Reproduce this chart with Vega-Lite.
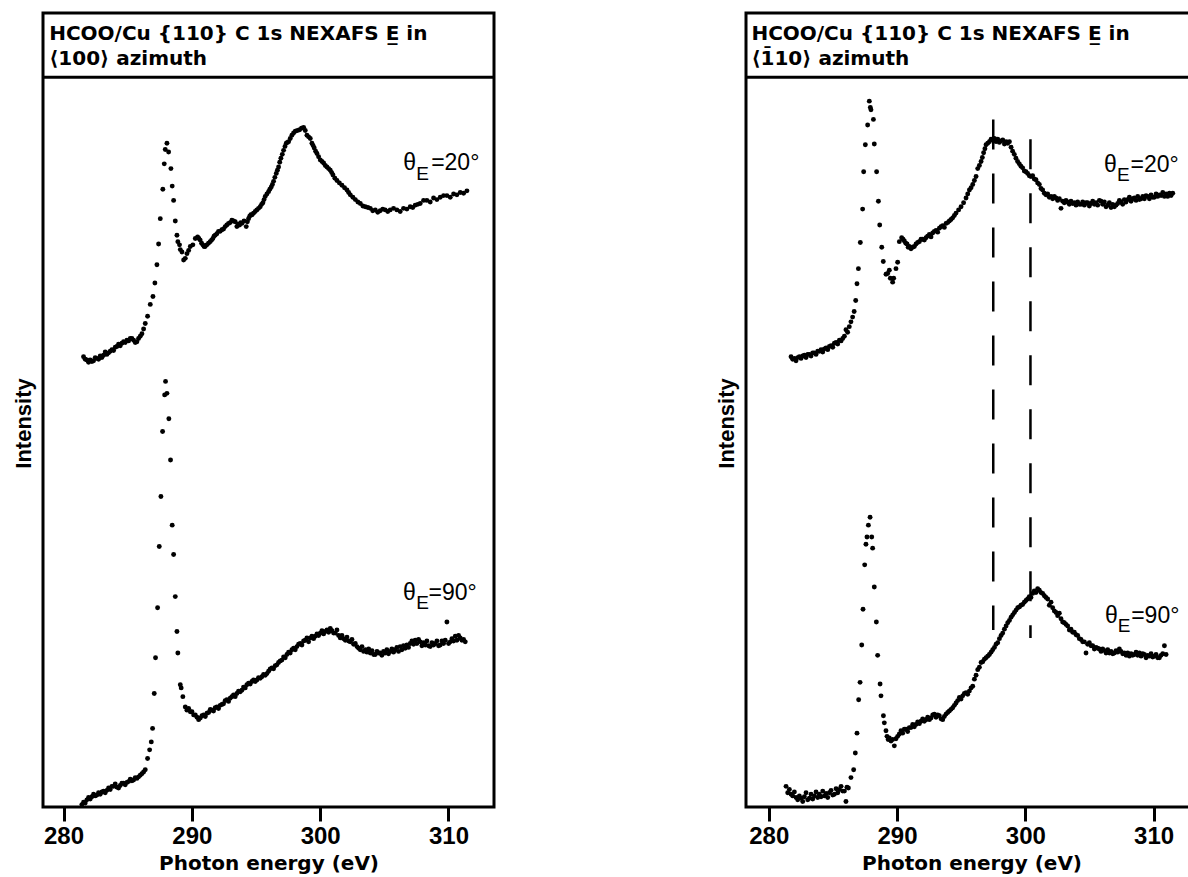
{
"$schema": "https://vega.github.io/schema/vega-lite/v6.json",
"background": "white",
"padding": {"left": 10, "top": 11, "right": 0, "bottom": 0},
"spacing": 216,
"config": {
  "view": {"stroke": "black", "strokeWidth": 3},
  "font": "Liberation Sans",
  "axisX": {"domain": false, "grid": false, "tickSize": 14, "tickWidth": 3, "tickColor": "black", "labelFont": "Liberation Sans", "labelFontSize": 24, "labelFontWeight": "bold", "labelColor": "black", "labelPadding": 3, "titleFont": "DejaVu Sans", "titleFontSize": 20, "titleFontWeight": "bold", "titlePadding": 5, "titleColor": "black"},
  "axisY": {"domain": false, "ticks": false, "labels": false, "grid": false, "titleFont": "Liberation Sans", "titleFontSize": 22, "titleFontWeight": "bold", "titlePadding": 8, "titleColor": "black", "titleY": 410}
},
"datasets": {
"a": [
{"e":281.56,"i":56.7},{"e":281.69,"i":56.4},{"e":281.82,"i":56.3},{"e":281.95,"i":56.0},{"e":282.08,"i":56.3},{"e":282.21,"i":56.1},{"e":282.34,"i":56.2},{"e":282.47,"i":56.6},{"e":282.60,"i":56.5},{"e":282.73,"i":56.4},{"e":282.86,"i":56.8},{"e":282.99,"i":56.6},{"e":283.12,"i":56.9},{"e":283.25,"i":57.3},{"e":283.38,"i":57.0},{"e":283.51,"i":57.2},{"e":283.64,"i":57.4},{"e":283.77,"i":57.6},{"e":283.90,"i":57.5},{"e":284.03,"i":57.9},{"e":284.16,"i":58.0},{"e":284.29,"i":58.3},{"e":284.42,"i":58.1},{"e":284.55,"i":58.4},{"e":284.68,"i":58.6},{"e":284.81,"i":58.5},{"e":284.94,"i":58.8},{"e":285.07,"i":58.7},{"e":285.20,"i":59.0},{"e":285.33,"i":59.0},{"e":285.46,"i":58.8},{"e":285.59,"i":58.5},{"e":285.72,"i":58.6},{"e":285.85,"i":59.0},{"e":285.98,"i":59.3},{"e":286.11,"i":59.6},{"e":286.24,"i":60.2},{"e":286.37,"i":60.9},{"e":286.55,"i":61.8},{"e":286.76,"i":63.3},{"e":286.97,"i":64.3},{"e":287.12,"i":66.0},{"e":287.28,"i":68.3},{"e":287.41,"i":70.9},{"e":287.54,"i":74.1},{"e":287.74,"i":77.8},{"e":287.85,"i":81.0},{"e":287.93,"i":82.8},{"e":288.06,"i":83.6},{"e":288.19,"i":82.5},{"e":288.37,"i":80.4},{"e":288.47,"i":78.2},{"e":288.58,"i":76.4},{"e":288.71,"i":73.8},{"e":288.84,"i":72.0},{"e":288.91,"i":71.2},{"e":289.04,"i":70.8},{"e":289.10,"i":70.2},{"e":289.23,"i":69.9},{"e":289.36,"i":68.9},{"e":289.49,"i":69.1},{"e":289.62,"i":69.7},{"e":289.75,"i":70.1},{"e":289.88,"i":70.6},{"e":290.08,"i":70.8},{"e":290.27,"i":71.6},{"e":290.45,"i":71.8},{"e":290.55,"i":71.6},{"e":290.65,"i":71.4},{"e":290.76,"i":71.0},{"e":290.86,"i":70.8},{"e":290.95,"i":70.6},{"e":291.04,"i":70.6},{"e":291.17,"i":70.8},{"e":291.30,"i":71.0},{"e":291.43,"i":71.2},{"e":291.54,"i":71.4},{"e":291.64,"i":71.6},{"e":291.73,"i":71.9},{"e":291.82,"i":72.0},{"e":291.95,"i":72.2},{"e":292.08,"i":72.5},{"e":292.21,"i":72.5},{"e":292.34,"i":72.7},{"e":292.47,"i":72.8},{"e":292.60,"i":73.1},{"e":292.73,"i":73.3},{"e":292.86,"i":73.5},{"e":292.99,"i":73.6},{"e":293.12,"i":73.9},{"e":293.25,"i":73.8},{"e":293.38,"i":73.7},{"e":293.51,"i":73.1},{"e":293.62,"i":73.4},{"e":293.72,"i":73.3},{"e":293.81,"i":73.6},{"e":293.90,"i":73.5},{"e":294.07,"i":73.8},{"e":294.24,"i":73.1},{"e":294.33,"i":73.7},{"e":294.42,"i":74.1},{"e":294.51,"i":74.4},{"e":294.60,"i":74.6},{"e":294.70,"i":74.6},{"e":294.81,"i":74.8},{"e":294.94,"i":75.0},{"e":295.07,"i":75.2},{"e":295.20,"i":75.4},{"e":295.33,"i":75.6},{"e":295.44,"i":75.9},{"e":295.54,"i":76.1},{"e":295.63,"i":76.5},{"e":295.72,"i":76.9},{"e":295.85,"i":77.2},{"e":295.98,"i":77.5},{"e":296.08,"i":77.8},{"e":296.19,"i":78.1},{"e":296.28,"i":78.4},{"e":296.37,"i":78.8},{"e":296.47,"i":79.3},{"e":296.58,"i":79.8},{"e":296.67,"i":80.2},{"e":296.76,"i":80.6},{"e":296.85,"i":81.2},{"e":296.94,"i":81.7},{"e":297.05,"i":82.2},{"e":297.15,"i":82.7},{"e":297.26,"i":83.2},{"e":297.36,"i":83.6},{"e":297.45,"i":83.7},{"e":297.54,"i":83.8},{"e":297.67,"i":84.2},{"e":297.80,"i":84.6},{"e":297.93,"i":84.9},{"e":298.06,"i":85.1},{"e":298.23,"i":85.2},{"e":298.40,"i":85.3},{"e":298.55,"i":85.5},{"e":298.71,"i":85.6},{"e":298.84,"i":85.2},{"e":298.97,"i":84.6},{"e":299.10,"i":84.4},{"e":299.23,"i":84.2},{"e":299.36,"i":83.6},{"e":299.45,"i":83.3},{"e":299.54,"i":83.0},{"e":299.65,"i":82.6},{"e":299.75,"i":82.3},{"e":299.88,"i":81.9},{"e":300.01,"i":81.5},{"e":300.14,"i":81.3},{"e":300.27,"i":81.1},{"e":300.40,"i":80.8},{"e":300.53,"i":80.6},{"e":300.66,"i":80.4},{"e":300.79,"i":80.2},{"e":300.90,"i":79.9},{"e":301.00,"i":79.6},{"e":301.15,"i":79.2},{"e":301.31,"i":78.9},{"e":301.50,"i":78.6},{"e":301.70,"i":78.3},{"e":301.90,"i":78.0},{"e":302.09,"i":77.7},{"e":302.22,"i":77.4},{"e":302.35,"i":77.1},{"e":302.55,"i":76.8},{"e":302.74,"i":76.5},{"e":302.94,"i":76.2},{"e":303.13,"i":76.0},{"e":303.33,"i":75.7},{"e":303.52,"i":75.6},{"e":303.72,"i":75.5},{"e":303.91,"i":75.4},{"e":304.10,"i":75.1},{"e":304.30,"i":75.2},{"e":304.49,"i":74.9},{"e":304.68,"i":75.1},{"e":304.88,"i":75.3},{"e":305.07,"i":75.2},{"e":305.27,"i":75.0},{"e":305.46,"i":75.2},{"e":305.72,"i":75.4},{"e":305.98,"i":75.2},{"e":306.24,"i":75.0},{"e":306.50,"i":75.4},{"e":306.76,"i":75.3},{"e":307.02,"i":75.6},{"e":307.22,"i":75.5},{"e":307.41,"i":75.8},{"e":307.61,"i":75.9},{"e":307.80,"i":76.0},{"e":308.06,"i":76.4},{"e":308.32,"i":76.4},{"e":308.58,"i":76.2},{"e":308.84,"i":76.7},{"e":309.10,"i":76.5},{"e":309.36,"i":76.8},{"e":309.62,"i":77.0},{"e":309.88,"i":77.0},{"e":310.14,"i":76.8},{"e":310.40,"i":77.2},{"e":310.66,"i":77.1},{"e":310.92,"i":77.4},{"e":311.18,"i":77.3},{"e":311.44,"i":77.6},
{"e":281.43,"i":0.3},{"e":281.56,"i":0.6},{"e":281.69,"i":0.5},{"e":281.82,"i":0.9},{"e":281.95,"i":1.2},{"e":282.08,"i":1.0},{"e":282.21,"i":1.3},{"e":282.34,"i":1.6},{"e":282.47,"i":1.4},{"e":282.60,"i":1.5},{"e":282.73,"i":1.8},{"e":282.86,"i":1.6},{"e":282.99,"i":1.9},{"e":283.12,"i":2.0},{"e":283.25,"i":1.8},{"e":283.38,"i":2.1},{"e":283.51,"i":2.4},{"e":283.64,"i":2.2},{"e":283.77,"i":2.6},{"e":283.90,"i":2.6},{"e":284.03,"i":2.9},{"e":284.16,"i":2.5},{"e":284.29,"i":2.4},{"e":284.42,"i":2.7},{"e":284.55,"i":3.0},{"e":284.68,"i":3.0},{"e":284.81,"i":2.8},{"e":284.94,"i":3.1},{"e":285.07,"i":3.2},{"e":285.20,"i":3.5},{"e":285.33,"i":3.3},{"e":285.46,"i":3.4},{"e":285.59,"i":3.7},{"e":285.72,"i":3.6},{"e":285.85,"i":3.8},{"e":285.98,"i":4.0},{"e":286.11,"i":4.2},{"e":286.24,"i":4.4},{"e":286.37,"i":4.7},{"e":286.55,"i":6.1},{"e":286.71,"i":7.2},{"e":286.84,"i":8.2},{"e":286.94,"i":9.9},{"e":287.07,"i":14.3},{"e":287.17,"i":18.8},{"e":287.33,"i":25.1},{"e":287.46,"i":32.8},{"e":287.59,"i":39.1},{"e":287.72,"i":47.3},{"e":287.88,"i":51.9},{"e":287.95,"i":53.6},{"e":288.06,"i":52.1},{"e":288.21,"i":48.9},{"e":288.34,"i":43.7},{"e":288.47,"i":35.5},{"e":288.58,"i":31.8},{"e":288.71,"i":26.5},{"e":288.84,"i":22.1},{"e":288.91,"i":19.4},{"e":289.10,"i":15.4},{"e":289.17,"i":15.0},{"e":289.30,"i":13.9},{"e":289.49,"i":12.6},{"e":289.62,"i":12.2},{"e":289.75,"i":12.4},{"e":289.88,"i":12.0},{"e":290.01,"i":12.0},{"e":290.14,"i":11.6},{"e":290.27,"i":11.6},{"e":290.40,"i":11.3},{"e":290.53,"i":11.0},{"e":290.66,"i":11.2},{"e":290.79,"i":11.5},{"e":290.92,"i":11.6},{"e":291.05,"i":11.4},{"e":291.18,"i":11.8},{"e":291.31,"i":11.9},{"e":291.44,"i":12.3},{"e":291.56,"i":12.2},{"e":291.69,"i":12.1},{"e":291.82,"i":12.5},{"e":291.95,"i":12.6},{"e":292.08,"i":12.4},{"e":292.21,"i":12.8},{"e":292.34,"i":12.9},{"e":292.47,"i":13.0},{"e":292.60,"i":13.4},{"e":292.73,"i":13.5},{"e":292.86,"i":13.3},{"e":292.99,"i":13.7},{"e":293.12,"i":13.9},{"e":293.25,"i":14.1},{"e":293.38,"i":13.9},{"e":293.51,"i":14.3},{"e":293.64,"i":14.6},{"e":293.77,"i":14.5},{"e":293.90,"i":14.7},{"e":294.03,"i":15.1},{"e":294.16,"i":15.0},{"e":294.29,"i":15.4},{"e":294.42,"i":15.6},{"e":294.55,"i":15.5},{"e":294.68,"i":15.8},{"e":294.81,"i":16.0},{"e":294.94,"i":15.8},{"e":295.07,"i":16.0},{"e":295.20,"i":16.3},{"e":295.33,"i":16.2},{"e":295.46,"i":16.4},{"e":295.59,"i":16.7},{"e":295.72,"i":16.6},{"e":295.85,"i":16.8},{"e":295.98,"i":17.1},{"e":296.11,"i":17.4},{"e":296.24,"i":17.5},{"e":296.37,"i":17.4},{"e":296.50,"i":17.8},{"e":296.63,"i":17.9},{"e":296.76,"i":18.2},{"e":296.89,"i":18.4},{"e":297.02,"i":18.5},{"e":297.15,"i":18.9},{"e":297.28,"i":18.8},{"e":297.41,"i":19.2},{"e":297.54,"i":19.5},{"e":297.67,"i":19.4},{"e":297.80,"i":19.8},{"e":297.93,"i":20.0},{"e":298.06,"i":19.8},{"e":298.19,"i":20.2},{"e":298.32,"i":20.5},{"e":298.45,"i":20.6},{"e":298.58,"i":20.4},{"e":298.71,"i":20.9},{"e":298.84,"i":21.0},{"e":298.97,"i":21.3},{"e":299.10,"i":20.8},{"e":299.23,"i":21.3},{"e":299.36,"i":21.5},{"e":299.49,"i":21.2},{"e":299.62,"i":21.5},{"e":299.75,"i":21.8},{"e":299.88,"i":21.6},{"e":300.01,"i":21.9},{"e":300.14,"i":22.2},{"e":300.27,"i":21.8},{"e":300.40,"i":22.1},{"e":300.53,"i":22.3},{"e":300.66,"i":22.0},{"e":300.79,"i":22.5},{"e":300.92,"i":22.2},{"e":301.05,"i":21.9},{"e":301.18,"i":21.9},{"e":301.31,"i":22.3},{"e":301.44,"i":21.6},{"e":301.57,"i":21.3},{"e":301.70,"i":21.6},{"e":301.83,"i":21.2},{"e":301.96,"i":21.0},{"e":302.09,"i":21.4},{"e":302.22,"i":20.9},{"e":302.35,"i":20.8},{"e":302.48,"i":21.1},{"e":302.61,"i":20.5},{"e":302.74,"i":20.6},{"e":302.87,"i":20.2},{"e":303.00,"i":20.0},{"e":303.13,"i":19.8},{"e":303.26,"i":20.2},{"e":303.39,"i":19.6},{"e":303.52,"i":19.8},{"e":303.65,"i":19.5},{"e":303.78,"i":19.9},{"e":303.91,"i":19.4},{"e":304.04,"i":19.7},{"e":304.17,"i":19.2},{"e":304.30,"i":19.2},{"e":304.43,"i":19.6},{"e":304.56,"i":19.4},{"e":304.68,"i":19.4},{"e":304.81,"i":19.1},{"e":304.94,"i":19.6},{"e":305.07,"i":19.4},{"e":305.20,"i":19.8},{"e":305.33,"i":19.3},{"e":305.46,"i":19.6},{"e":305.59,"i":19.9},{"e":305.72,"i":19.5},{"e":305.85,"i":19.8},{"e":305.98,"i":20.1},{"e":306.11,"i":19.6},{"e":306.24,"i":20.2},{"e":306.37,"i":19.8},{"e":306.50,"i":20.3},{"e":306.63,"i":20.0},{"e":306.76,"i":20.4},{"e":306.89,"i":20.1},{"e":307.02,"i":20.6},{"e":307.15,"i":20.9},{"e":307.28,"i":20.5},{"e":307.41,"i":21.0},{"e":307.54,"i":20.6},{"e":307.67,"i":21.1},{"e":307.80,"i":20.8},{"e":307.93,"i":20.3},{"e":308.06,"i":20.7},{"e":308.19,"i":20.4},{"e":308.32,"i":20.9},{"e":308.45,"i":20.3},{"e":308.58,"i":20.2},{"e":308.71,"i":20.7},{"e":308.84,"i":20.4},{"e":308.97,"i":20.6},{"e":309.10,"i":20.9},{"e":309.23,"i":20.3},{"e":309.36,"i":20.4},{"e":309.49,"i":20.9},{"e":309.62,"i":20.6},{"e":309.75,"i":21.0},{"e":309.88,"i":23.3},{"e":310.01,"i":20.6},{"e":310.14,"i":20.8},{"e":310.27,"i":21.2},{"e":310.40,"i":20.9},{"e":310.53,"i":21.5},{"e":310.66,"i":21.0},{"e":310.79,"i":21.6},{"e":310.92,"i":21.3},{"e":311.05,"i":21.0},{"e":311.18,"i":21.1},{"e":311.31,"i":20.8}
],
"b": [
{"e":281.74,"i":56.7},{"e":281.87,"i":56.4},{"e":282.00,"i":56.5},{"e":282.13,"i":56.2},{"e":282.26,"i":56.6},{"e":282.39,"i":56.7},{"e":282.52,"i":56.5},{"e":282.65,"i":56.8},{"e":282.78,"i":56.9},{"e":282.91,"i":56.6},{"e":283.04,"i":57.0},{"e":283.17,"i":57.0},{"e":283.30,"i":56.8},{"e":283.43,"i":57.2},{"e":283.56,"i":57.2},{"e":283.69,"i":57.0},{"e":283.82,"i":57.4},{"e":283.95,"i":57.4},{"e":284.08,"i":57.6},{"e":284.21,"i":57.3},{"e":284.34,"i":57.7},{"e":284.47,"i":57.8},{"e":284.60,"i":57.6},{"e":284.73,"i":58.0},{"e":284.86,"i":58.1},{"e":284.99,"i":57.9},{"e":285.12,"i":58.4},{"e":285.25,"i":58.5},{"e":285.38,"i":58.3},{"e":285.51,"i":58.8},{"e":285.64,"i":58.7},{"e":285.77,"i":59.0},{"e":285.90,"i":59.3},{"e":286.02,"i":60.1},{"e":286.15,"i":59.8},{"e":286.28,"i":60.5},{"e":286.41,"i":61.1},{"e":286.54,"i":61.7},{"e":286.66,"i":62.4},{"e":286.78,"i":63.8},{"e":286.88,"i":65.9},{"e":286.99,"i":67.8},{"e":287.14,"i":71.1},{"e":287.32,"i":75.3},{"e":287.40,"i":80.0},{"e":287.53,"i":83.4},{"e":287.71,"i":85.9},{"e":287.84,"i":88.9},{"e":287.92,"i":88.1},{"e":287.97,"i":87.8},{"e":288.16,"i":86.6},{"e":288.23,"i":83.5},{"e":288.41,"i":80.0},{"e":288.55,"i":76.3},{"e":288.65,"i":73.3},{"e":288.81,"i":70.5},{"e":288.93,"i":68.7},{"e":289.14,"i":67.1},{"e":289.27,"i":67.2},{"e":289.40,"i":67.6},{"e":289.48,"i":66.6},{"e":289.66,"i":66.1},{"e":289.74,"i":66.6},{"e":289.92,"i":67.8},{"e":290.05,"i":68.6},{"e":290.18,"i":71.2},{"e":290.36,"i":71.7},{"e":290.47,"i":71.5},{"e":290.57,"i":71.3},{"e":290.68,"i":71.0},{"e":290.78,"i":70.9},{"e":290.87,"i":70.5},{"e":290.96,"i":70.6},{"e":291.09,"i":70.3},{"e":291.22,"i":70.5},{"e":291.35,"i":70.6},{"e":291.48,"i":70.9},{"e":291.61,"i":71.1},{"e":291.74,"i":71.2},{"e":291.87,"i":71.5},{"e":292.00,"i":71.5},{"e":292.13,"i":71.4},{"e":292.26,"i":71.7},{"e":292.39,"i":71.9},{"e":292.52,"i":72.1},{"e":292.65,"i":71.8},{"e":292.78,"i":72.3},{"e":292.91,"i":72.5},{"e":293.04,"i":72.6},{"e":293.17,"i":72.4},{"e":293.30,"i":72.9},{"e":293.43,"i":73.1},{"e":293.56,"i":73.2},{"e":293.69,"i":73.0},{"e":293.82,"i":73.5},{"e":293.95,"i":73.6},{"e":294.08,"i":73.8},{"e":294.21,"i":74.0},{"e":294.34,"i":74.2},{"e":294.47,"i":74.5},{"e":294.60,"i":74.8},{"e":294.80,"i":75.2},{"e":294.99,"i":75.6},{"e":295.19,"i":76.1},{"e":295.38,"i":76.7},{"e":295.51,"i":77.2},{"e":295.64,"i":77.7},{"e":295.77,"i":78.0},{"e":295.90,"i":78.4},{"e":296.03,"i":78.9},{"e":296.16,"i":79.4},{"e":296.29,"i":80.4},{"e":296.42,"i":80.8},{"e":296.55,"i":81.3},{"e":296.65,"i":81.8},{"e":296.75,"i":82.4},{"e":296.85,"i":82.9},{"e":296.94,"i":83.4},{"e":297.07,"i":83.6},{"e":297.20,"i":83.8},{"e":297.33,"i":84.1},{"e":297.46,"i":84.0},{"e":297.59,"i":84.2},{"e":297.72,"i":83.8},{"e":297.85,"i":84.1},{"e":297.98,"i":83.7},{"e":298.11,"i":83.9},{"e":298.24,"i":84.0},{"e":298.37,"i":83.5},{"e":298.50,"i":83.8},{"e":298.63,"i":83.6},{"e":298.76,"i":83.8},{"e":298.89,"i":83.1},{"e":299.01,"i":82.6},{"e":299.14,"i":82.2},{"e":299.27,"i":81.7},{"e":299.40,"i":81.3},{"e":299.53,"i":81.0},{"e":299.66,"i":80.7},{"e":299.79,"i":80.5},{"e":299.92,"i":80.1},{"e":300.05,"i":80.0},{"e":300.18,"i":79.8},{"e":300.31,"i":79.5},{"e":300.44,"i":79.4},{"e":300.57,"i":79.5},{"e":300.70,"i":79.1},{"e":300.83,"i":79.0},{"e":300.96,"i":78.6},{"e":301.09,"i":78.4},{"e":301.22,"i":77.9},{"e":301.35,"i":77.7},{"e":301.48,"i":77.3},{"e":301.61,"i":77.1},{"e":301.74,"i":77.2},{"e":301.87,"i":76.8},{"e":302.00,"i":76.9},{"e":302.13,"i":76.6},{"e":302.26,"i":76.9},{"e":302.39,"i":76.7},{"e":302.52,"i":76.4},{"e":302.65,"i":76.6},{"e":302.78,"i":75.4},{"e":302.91,"i":76.3},{"e":303.04,"i":76.1},{"e":303.17,"i":76.4},{"e":303.30,"i":76.2},{"e":303.43,"i":75.9},{"e":303.56,"i":76.3},{"e":303.69,"i":76.0},{"e":303.82,"i":76.1},{"e":303.95,"i":75.8},{"e":304.08,"i":76.2},{"e":304.21,"i":75.9},{"e":304.34,"i":75.9},{"e":304.47,"i":76.2},{"e":304.60,"i":75.8},{"e":304.73,"i":76.1},{"e":304.86,"i":76.1},{"e":304.99,"i":75.7},{"e":305.12,"i":76.0},{"e":305.25,"i":76.3},{"e":305.38,"i":75.9},{"e":305.51,"i":76.1},{"e":305.64,"i":75.8},{"e":305.77,"i":76.4},{"e":305.90,"i":76.3},{"e":306.03,"i":75.9},{"e":306.16,"i":76.2},{"e":306.29,"i":75.6},{"e":306.42,"i":75.8},{"e":306.55,"i":76.1},{"e":306.68,"i":75.5},{"e":306.81,"i":75.9},{"e":306.94,"i":75.6},{"e":307.07,"i":75.8},{"e":307.20,"i":76.0},{"e":307.33,"i":76.4},{"e":307.46,"i":76.2},{"e":307.59,"i":75.9},{"e":307.72,"i":76.5},{"e":307.85,"i":76.2},{"e":307.98,"i":76.5},{"e":308.11,"i":76.8},{"e":308.24,"i":76.3},{"e":308.37,"i":76.6},{"e":308.50,"i":76.7},{"e":308.63,"i":76.4},{"e":308.76,"i":76.9},{"e":308.89,"i":76.5},{"e":309.02,"i":76.6},{"e":309.15,"i":76.9},{"e":309.28,"i":76.6},{"e":309.41,"i":77.0},{"e":309.54,"i":76.9},{"e":309.67,"i":76.6},{"e":309.80,"i":77.1},{"e":309.93,"i":76.8},{"e":310.06,"i":76.8},{"e":310.19,"i":77.2},{"e":310.32,"i":76.9},{"e":310.45,"i":77.1},{"e":310.58,"i":77.0},{"e":310.71,"i":77.4},{"e":310.84,"i":76.9},{"e":310.97,"i":77.2},{"e":311.10,"i":76.9},{"e":311.23,"i":77.3},{"e":311.36,"i":77.0},{"e":311.49,"i":77.3},
{"e":281.35,"i":2.6},{"e":281.48,"i":1.8},{"e":281.61,"i":2.2},{"e":281.74,"i":1.6},{"e":281.87,"i":1.4},{"e":282.00,"i":1.9},{"e":282.13,"i":1.2},{"e":282.26,"i":0.9},{"e":282.39,"i":1.4},{"e":282.52,"i":1.1},{"e":282.65,"i":0.7},{"e":282.78,"i":1.3},{"e":282.91,"i":1.8},{"e":283.04,"i":0.9},{"e":283.17,"i":1.1},{"e":283.30,"i":1.6},{"e":283.43,"i":1.0},{"e":283.56,"i":1.4},{"e":283.69,"i":1.9},{"e":283.82,"i":1.2},{"e":283.95,"i":1.6},{"e":284.08,"i":1.3},{"e":284.21,"i":2.0},{"e":284.34,"i":1.4},{"e":284.47,"i":1.7},{"e":284.60,"i":1.2},{"e":284.73,"i":1.8},{"e":284.86,"i":2.1},{"e":284.99,"i":1.5},{"e":285.12,"i":1.6},{"e":285.25,"i":2.3},{"e":285.38,"i":1.8},{"e":285.51,"i":2.2},{"e":285.64,"i":2.6},{"e":285.77,"i":2.0},{"e":285.90,"i":2.0},{"e":286.02,"i":0.7},{"e":286.10,"i":2.5},{"e":286.21,"i":2.4},{"e":286.41,"i":3.7},{"e":286.62,"i":4.7},{"e":286.75,"i":6.8},{"e":286.88,"i":9.3},{"e":287.01,"i":13.5},{"e":287.12,"i":15.7},{"e":287.25,"i":20.4},{"e":287.35,"i":24.9},{"e":287.48,"i":30.5},{"e":287.58,"i":33.1},{"e":287.66,"i":34.0},{"e":287.77,"i":35.5},{"e":287.90,"i":36.5},{"e":288.03,"i":34.0},{"e":288.10,"i":32.6},{"e":288.23,"i":27.7},{"e":288.39,"i":23.3},{"e":288.49,"i":19.1},{"e":288.68,"i":15.5},{"e":288.75,"i":14.0},{"e":288.94,"i":11.5},{"e":289.01,"i":10.6},{"e":289.14,"i":9.6},{"e":289.22,"i":8.9},{"e":289.31,"i":8.5},{"e":289.40,"i":8.7},{"e":289.53,"i":8.3},{"e":289.66,"i":8.5},{"e":289.79,"i":7.7},{"e":289.92,"i":8.6},{"e":290.05,"i":8.9},{"e":290.18,"i":9.2},{"e":290.31,"i":9.6},{"e":290.44,"i":9.3},{"e":290.57,"i":9.8},{"e":290.70,"i":9.8},{"e":290.83,"i":9.5},{"e":290.96,"i":10.0},{"e":291.09,"i":10.0},{"e":291.22,"i":10.4},{"e":291.35,"i":10.1},{"e":291.48,"i":10.4},{"e":291.61,"i":10.7},{"e":291.74,"i":10.5},{"e":291.87,"i":10.8},{"e":292.00,"i":11.1},{"e":292.13,"i":10.8},{"e":292.26,"i":11.0},{"e":292.39,"i":11.3},{"e":292.52,"i":11.0},{"e":292.65,"i":11.2},{"e":292.78,"i":11.6},{"e":292.91,"i":11.7},{"e":293.04,"i":11.3},{"e":293.17,"i":11.6},{"e":293.30,"i":11.5},{"e":293.43,"i":11.1},{"e":293.56,"i":11.0},{"e":293.69,"i":11.4},{"e":293.82,"i":11.7},{"e":293.95,"i":11.9},{"e":294.08,"i":12.1},{"e":294.21,"i":12.3},{"e":294.34,"i":12.5},{"e":294.47,"i":12.8},{"e":294.60,"i":13.1},{"e":294.73,"i":13.4},{"e":294.86,"i":13.8},{"e":294.99,"i":13.6},{"e":295.12,"i":14.0},{"e":295.25,"i":14.3},{"e":295.38,"i":14.4},{"e":295.51,"i":14.2},{"e":295.64,"i":14.6},{"e":295.77,"i":15.0},{"e":295.90,"i":15.2},{"e":296.03,"i":16.1},{"e":296.16,"i":16.6},{"e":296.29,"i":17.3},{"e":296.42,"i":17.6},{"e":296.55,"i":18.2},{"e":296.68,"i":18.3},{"e":296.81,"i":18.6},{"e":296.94,"i":18.8},{"e":297.07,"i":19.0},{"e":297.20,"i":19.2},{"e":297.33,"i":19.5},{"e":297.46,"i":19.8},{"e":297.59,"i":20.1},{"e":297.72,"i":20.5},{"e":297.85,"i":20.7},{"e":297.98,"i":21.2},{"e":298.11,"i":21.6},{"e":298.24,"i":21.9},{"e":298.37,"i":22.4},{"e":298.50,"i":22.8},{"e":298.63,"i":23.2},{"e":298.76,"i":23.5},{"e":298.89,"i":23.9},{"e":299.02,"i":24.2},{"e":299.15,"i":24.5},{"e":299.28,"i":24.8},{"e":299.41,"i":25.1},{"e":299.54,"i":25.2},{"e":299.66,"i":25.4},{"e":299.79,"i":25.5},{"e":299.92,"i":25.8},{"e":300.05,"i":26.0},{"e":300.18,"i":26.2},{"e":300.31,"i":26.5},{"e":300.44,"i":26.4},{"e":300.57,"i":26.9},{"e":300.70,"i":27.2},{"e":300.83,"i":27.0},{"e":300.96,"i":27.5},{"e":301.09,"i":27.3},{"e":301.22,"i":27.0},{"e":301.35,"i":26.9},{"e":301.48,"i":26.6},{"e":301.61,"i":26.4},{"e":301.74,"i":26.2},{"e":301.87,"i":25.4},{"e":302.00,"i":25.8},{"e":302.13,"i":25.1},{"e":302.26,"i":24.7},{"e":302.39,"i":24.5},{"e":302.52,"i":24.1},{"e":302.65,"i":24.4},{"e":302.78,"i":23.7},{"e":302.91,"i":23.3},{"e":303.04,"i":23.2},{"e":303.17,"i":23.0},{"e":303.30,"i":22.8},{"e":303.43,"i":22.3},{"e":303.56,"i":22.4},{"e":303.69,"i":22.0},{"e":303.82,"i":22.0},{"e":303.95,"i":21.7},{"e":304.08,"i":21.6},{"e":304.21,"i":21.2},{"e":304.34,"i":21.1},{"e":304.47,"i":20.8},{"e":304.60,"i":20.8},{"e":304.73,"i":19.4},{"e":304.86,"i":20.5},{"e":304.99,"i":20.7},{"e":305.12,"i":20.3},{"e":305.25,"i":20.3},{"e":305.38,"i":19.9},{"e":305.51,"i":20.1},{"e":305.64,"i":20.0},{"e":305.77,"i":19.9},{"e":305.90,"i":19.6},{"e":306.03,"i":19.9},{"e":306.16,"i":19.7},{"e":306.29,"i":19.4},{"e":306.42,"i":19.8},{"e":306.55,"i":19.4},{"e":306.68,"i":19.6},{"e":306.81,"i":19.3},{"e":306.94,"i":19.4},{"e":307.07,"i":19.7},{"e":307.20,"i":19.5},{"e":307.33,"i":19.9},{"e":307.46,"i":19.6},{"e":307.59,"i":19.3},{"e":307.72,"i":19.4},{"e":307.85,"i":19.1},{"e":307.98,"i":19.4},{"e":308.11,"i":19.0},{"e":308.24,"i":19.3},{"e":308.37,"i":19.1},{"e":308.50,"i":19.2},{"e":308.63,"i":19.5},{"e":308.76,"i":19.1},{"e":308.89,"i":19.4},{"e":309.02,"i":19.0},{"e":309.15,"i":19.3},{"e":309.28,"i":19.2},{"e":309.41,"i":18.8},{"e":309.54,"i":19.1},{"e":309.67,"i":19.0},{"e":309.80,"i":19.3},{"e":309.93,"i":18.9},{"e":310.06,"i":19.0},{"e":310.19,"i":19.2},{"e":310.32,"i":18.8},{"e":310.45,"i":18.8},{"e":310.58,"i":19.1},{"e":310.71,"i":19.3},{"e":310.84,"i":20.3},{"e":310.97,"i":19.2}
]
},
"hconcat": [
{
 "width": 451, "height": 794,
 "layer": [
  {"data": {"name": "a"},
   "mark": {"type": "point", "filled": true, "shape": "circle", "size": 24, "color": "black", "opacity": 1},
   "encoding": {
    "x": {"field": "e", "type": "quantitative", "scale": {"domain": [278.4, 313.55], "nice": false, "zero": false}, "axis": {"title": "Photon energy (eV)", "values": [280, 290, 300, 310], "format": "d"}},
    "y": {"field": "i", "type": "quantitative", "scale": {"domain": [0, 100], "nice": false, "zero": false}, "axis": {"title": "Intensity"}}}},
  {"data": {"values": [{"i": 91.9}]},
   "mark": {"type": "rule", "color": "black", "strokeWidth": 3},
   "encoding": {"y": {"field": "i", "type": "quantitative", "scale": {"domain": [0, 100], "nice": false, "zero": false}, "axis": {"title": "Intensity"}}}},
  {"data": {"values": [{"e": 278.88, "i": 96.6, "t": "HCOO/Cu {110}  C 1s  NEXAFS  E̲  in"}, {"e": 278.88, "i": 93.5, "t": "⟨100⟩ azimuth"}]},
   "mark": {"type": "text", "align": "left", "baseline": "alphabetic", "font": "DejaVu Sans", "fontSize": 20, "fontWeight": "bold", "color": "black"},
   "encoding": {
    "x": {"field": "e", "type": "quantitative", "scale": {"domain": [278.4, 313.55], "nice": false, "zero": false}, "axis": {"title": "Photon energy (eV)", "values": [280, 290, 300, 310], "format": "d"}},
    "y": {"field": "i", "type": "quantitative", "scale": {"domain": [0, 100], "nice": false, "zero": false}, "axis": {"title": "Intensity"}},
    "text": {"field": "t"}}},
  {"data": {"values": [{"e": 306.48, "i": 80.2, "t": "θ"}, {"e": 308.65, "i": 80.2, "t": "=20°"}, {"e": 306.45, "i": 26.1, "t": "θ"}, {"e": 308.45, "i": 26.1, "t": "=90°"}]},
   "mark": {"type": "text", "align": "left", "baseline": "alphabetic", "fontSize": 23, "color": "black"},
   "encoding": {
    "x": {"field": "e", "type": "quantitative", "scale": {"domain": [278.4, 313.55], "nice": false, "zero": false}, "axis": {"title": "Photon energy (eV)", "values": [280, 290, 300, 310], "format": "d"}},
    "y": {"field": "i", "type": "quantitative", "scale": {"domain": [0, 100], "nice": false, "zero": false}, "axis": {"title": "Intensity"}},
    "text": {"field": "t"}}},
  {"data": {"values": [{"e": 307.5, "i": 79.0, "t": "E"}, {"e": 307.5, "i": 24.9, "t": "E"}]},
   "mark": {"type": "text", "align": "left", "baseline": "alphabetic", "fontSize": 19, "color": "black"},
   "encoding": {
    "x": {"field": "e", "type": "quantitative", "scale": {"domain": [278.4, 313.55], "nice": false, "zero": false}, "axis": {"title": "Photon energy (eV)", "values": [280, 290, 300, 310], "format": "d"}},
    "y": {"field": "i", "type": "quantitative", "scale": {"domain": [0, 100], "nice": false, "zero": false}, "axis": {"title": "Intensity"}},
    "text": {"field": "t"}}}
 ]
},
{
 "width": 451, "height": 794,
 "layer": [
  {"data": {"name": "b"},
   "mark": {"type": "point", "filled": true, "shape": "circle", "size": 24, "color": "black", "opacity": 1},
   "encoding": {
    "x": {"field": "e", "type": "quantitative", "scale": {"domain": [278.23, 313.38], "nice": false, "zero": false}, "axis": {"title": "Photon energy (eV)", "values": [280, 290, 300, 310], "format": "d"}},
    "y": {"field": "i", "type": "quantitative", "scale": {"domain": [0, 100], "nice": false, "zero": false}, "axis": {"title": "Intensity"}}}},
  {"data": {"values": [{"i": 91.9}]},
   "mark": {"type": "rule", "color": "black", "strokeWidth": 3},
   "encoding": {"y": {"field": "i", "type": "quantitative", "scale": {"domain": [0, 100], "nice": false, "zero": false}, "axis": {"title": "Intensity"}}}},
  {"data": {"values": [{"e": 297.5, "i": 86.6, "i2": 22.3}, {"e": 300.4, "i": 84.1, "i2": 21.3}]},
   "mark": {"type": "rule", "color": "black", "strokeWidth": 2.5, "strokeDash": [30, 24]},
   "encoding": {
    "x": {"field": "e", "type": "quantitative", "scale": {"domain": [278.23, 313.38], "nice": false, "zero": false}, "axis": {"title": "Photon energy (eV)", "values": [280, 290, 300, 310], "format": "d"}},
    "y": {"field": "i", "type": "quantitative", "scale": {"domain": [0, 100], "nice": false, "zero": false}, "axis": {"title": "Intensity"}},
    "y2": {"field": "i2"}}},
  {"data": {"values": [{"e": 278.65, "i": 96.6, "t": "HCOO/Cu {110}  C 1s  NEXAFS  E̲  in"}, {"e": 278.65, "i": 93.5, "t": "⟨1̄10⟩ azimuth"}]},
   "mark": {"type": "text", "align": "left", "baseline": "alphabetic", "font": "DejaVu Sans", "fontSize": 20, "fontWeight": "bold", "color": "black"},
   "encoding": {
    "x": {"field": "e", "type": "quantitative", "scale": {"domain": [278.23, 313.38], "nice": false, "zero": false}, "axis": {"title": "Photon energy (eV)", "values": [280, 290, 300, 310], "format": "d"}},
    "y": {"field": "i", "type": "quantitative", "scale": {"domain": [0, 100], "nice": false, "zero": false}, "axis": {"title": "Intensity"}},
    "text": {"field": "t"}}},
  {"data": {"values": [{"e": 306.13, "i": 80.0, "t": "θ"}, {"e": 308.2, "i": 80.0, "t": "=20°"}, {"e": 306.2, "i": 23.2, "t": "θ"}, {"e": 308.25, "i": 23.2, "t": "=90°"}]},
   "mark": {"type": "text", "align": "left", "baseline": "alphabetic", "fontSize": 23, "color": "black"},
   "encoding": {
    "x": {"field": "e", "type": "quantitative", "scale": {"domain": [278.23, 313.38], "nice": false, "zero": false}, "axis": {"title": "Photon energy (eV)", "values": [280, 290, 300, 310], "format": "d"}},
    "y": {"field": "i", "type": "quantitative", "scale": {"domain": [0, 100], "nice": false, "zero": false}, "axis": {"title": "Intensity"}},
    "text": {"field": "t"}}},
  {"data": {"values": [{"e": 307.15, "i": 78.8, "t": "E"}, {"e": 307.2, "i": 22.0, "t": "E"}]},
   "mark": {"type": "text", "align": "left", "baseline": "alphabetic", "fontSize": 19, "color": "black"},
   "encoding": {
    "x": {"field": "e", "type": "quantitative", "scale": {"domain": [278.23, 313.38], "nice": false, "zero": false}, "axis": {"title": "Photon energy (eV)", "values": [280, 290, 300, 310], "format": "d"}},
    "y": {"field": "i", "type": "quantitative", "scale": {"domain": [0, 100], "nice": false, "zero": false}, "axis": {"title": "Intensity"}},
    "text": {"field": "t"}}}
 ]
}
]
}
